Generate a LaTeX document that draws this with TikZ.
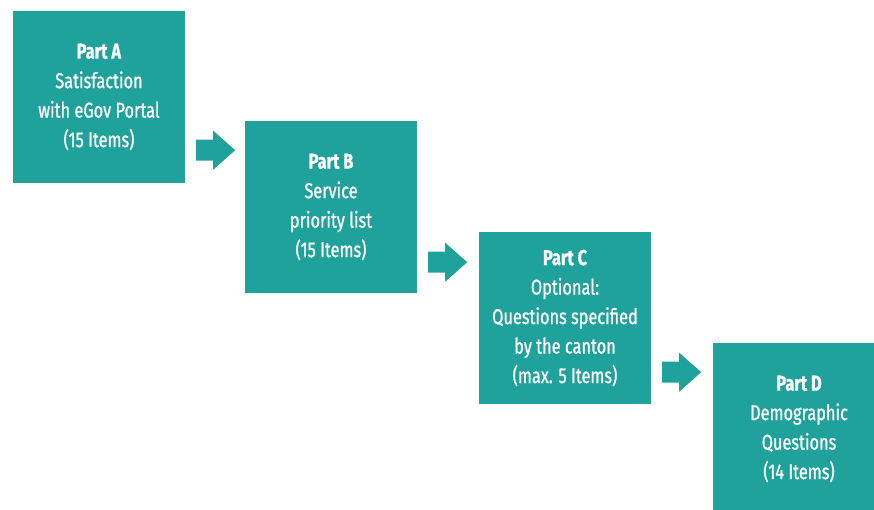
\documentclass[tikz,border=0pt]{standalone}
\usepackage{fontspec}
\setmainfont{Fira Sans}[FakeStretch=0.76,FakeBold=0.9]
\usetikzlibrary{calc}
\definecolor{tealbox}{HTML}{1FA19C}
\tikzset{
  partbox/.style={fill=tealbox, text=white, minimum width=172pt, minimum height=172pt,
    inner sep=0pt, align=center, font=\fontsize{21.5}{29.5}\selectfont},
  flowarrow/.style={fill=tealbox}
}
\newcommand{\blockarrow}[1]{%
  \fill[flowarrow] ($(#1)+(0,-10.5pt)$) -- ++(17pt,0) -- ++(0,-9pt) -- ++(22pt,19.5pt)
    -- ++(-22pt,19.5pt) -- ++(0,-9pt) -- ++(-17pt,0) -- cycle;}
\begin{document}
\begin{tikzpicture}[x=1pt,y=-1pt]
\useasboundingbox (0,0) rectangle (874,510);
\begin{scope}
\clip (0,0) rectangle (874,510);
\node[partbox] (A) at (99,97) {\textbf{Part A}\\Satisfaction\\with eGov Portal\\(15 Items)};
\node[partbox] (B) at (331,207) {\textbf{Part B}\\Service\\priority list\\(15 Items)};
\node[partbox] (C) at (565,318) {\textbf{Part C}\\Optional:\\Questions specified\\by the canton\\(max. 5 Items)};
\node[partbox] (D) at (799,429) {\textbf{Part D}\\Demographic\\Questions\\(14 Items)};
\coordinate (ab) at ($(A.south east)+(11pt,33pt)$);
\coordinate (bc) at ($(B.south east)+(11pt,31pt)$);
\coordinate (cd) at ($(C.south east)+(11pt,32pt)$);
\blockarrow{ab}
\blockarrow{bc}
\blockarrow{cd}
\end{scope}
\end{tikzpicture}
\end{document}
